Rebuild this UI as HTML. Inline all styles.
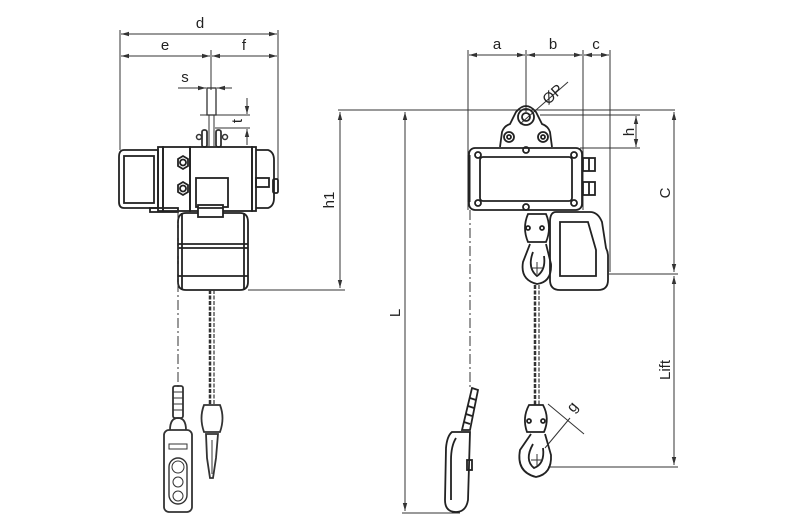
<!DOCTYPE html>
<html><head><meta charset="utf-8"><style>
html,body{margin:0;padding:0;background:#fff;}
svg{display:block;}
text{font-family:"Liberation Sans",sans-serif;font-size:15px;fill:#222;}
</style></head><body>
<svg width="794" height="532" viewBox="0 0 794 532" xmlns="http://www.w3.org/2000/svg">
<defs>
<marker id="ar" markerWidth="8" markerHeight="6" refX="8" refY="3" orient="auto-start-reverse" markerUnits="userSpaceOnUse"><path d="M0,0.8 L8,3 L0,5.2z" fill="#333"/></marker>
</defs>
<g stroke="#333" stroke-width="1" fill="none">
<!-- LEFT dims -->
<line x1="120" y1="30" x2="120" y2="150"/>
<line x1="278" y1="30" x2="278" y2="180"/>
<line x1="121" y1="34" x2="277" y2="34" marker-start="url(#ar)" marker-end="url(#ar)"/>
<line x1="121" y1="56" x2="210" y2="56" marker-start="url(#ar)" marker-end="url(#ar)"/>
<line x1="212" y1="56" x2="277" y2="56" marker-start="url(#ar)" marker-end="url(#ar)"/>
<line x1="211" y1="50" x2="211" y2="90"/>
<line x1="178" y1="88" x2="206" y2="88" marker-end="url(#ar)"/>
<line x1="232" y1="88" x2="217" y2="88" marker-end="url(#ar)"/>
<line x1="200" y1="115" x2="250" y2="115"/>
<line x1="215" y1="128" x2="250" y2="128"/>
<line x1="247" y1="98" x2="247" y2="114" marker-end="url(#ar)"/>
<line x1="247" y1="145" x2="247" y2="129" marker-end="url(#ar)"/>
<!-- shackle -->
<rect x="207" y="88" width="9" height="27" stroke-width="1.3"/>
<line x1="209" y1="115" x2="209" y2="146"/><line x1="214" y1="115" x2="214" y2="146"/>
<rect x="202" y="130" width="5" height="17" rx="2" stroke-width="1.8"/>
<rect x="216" y="130" width="5" height="17" rx="2" stroke-width="1.8"/>
<circle cx="199" cy="137" r="2.5" stroke-width="1.5"/><circle cx="225" cy="137" r="2.5" stroke-width="1.5"/>
<!-- body -->
<g stroke-width="1.8" stroke="#222">
<path d="M124,150 L158,150 L158,208 L124,208 Q119,208 119,202 L119,157 Q119,150 124,150z"/>
<rect x="124" y="156" width="30" height="47"/>
<rect x="158" y="147" width="5" height="64"/>
<rect x="163" y="147" width="27" height="64"/>
<rect x="190" y="147" width="62" height="64"/>
<rect x="252" y="147" width="4" height="64"/>
<path d="M256,150 L268,150 Q274,152 274,160 L274,198 Q274,206 268,208 L256,208"/>
<rect x="256" y="178" width="13" height="9"/>
<rect x="273" y="179" width="5" height="14" rx="1.5"/>
<rect x="196" y="178" width="32" height="29"/>
<polygon points="178,159 183,156 188,159 188,166 183,169 178,166"/><circle cx="183" cy="162.5" r="3"/>
<polygon points="178,185 183,182 188,185 188,192 183,195 178,192"/><circle cx="183" cy="188.5" r="3"/>
<rect x="150" y="208" width="28" height="4"/>
<path d="M186,213 L240,213 Q248,213 248,222 L248,282 Q248,290 240,290 L186,290 Q178,290 178,282 L178,222 Q178,213 186,213z"/>
<line x1="182" y1="213" x2="182" y2="290"/><line x1="244" y1="213" x2="244" y2="290"/>
<line x1="178" y1="244" x2="248" y2="244"/><line x1="178" y1="248" x2="248" y2="248"/>
<line x1="178" y1="276" x2="248" y2="276"/>
<rect x="198" y="205" width="25" height="12" fill="#fff"/>
<line x1="198" y1="208" x2="223" y2="208"/>
</g>
<line x1="178" y1="210" x2="178" y2="390" stroke-dasharray="10,3,2,3"/>
<!-- h1 -->
<line x1="338" y1="110" x2="675" y2="110"/>
<line x1="248" y1="290" x2="345" y2="290"/>
<line x1="340" y1="112" x2="340" y2="288" marker-start="url(#ar)" marker-end="url(#ar)"/>
<!-- left chain -->
<line x1="210" y1="290" x2="210" y2="405" stroke-dasharray="4,1.5" stroke-width="2.5"/>
<line x1="214" y1="290" x2="214" y2="405" stroke-dasharray="4,1.5" stroke-width="1.2"/>
<!-- left bottom block -->
<path d="M204,405 L220,405 Q225,418 220,432 L204,432 Q199,418 204,405z" stroke-width="1.8"/>
<path d="M206,434 L218,434 L216,458 L213,478 L210,478 L207,458z" stroke-width="1.8"/>
<line x1="212" y1="440" x2="212" y2="474"/>
<!-- left pendant -->
<rect x="173" y="386" width="10" height="32" rx="2" stroke-width="1.8"/>
<line x1="173" y1="392" x2="183" y2="392"/><line x1="173" y1="398" x2="183" y2="398"/><line x1="173" y1="404" x2="183" y2="404"/><line x1="173" y1="410" x2="183" y2="410"/>
<path d="M170,430 Q170,418 178,418 Q186,418 186,430" stroke-width="1.8"/>
<rect x="164" y="430" width="28" height="82" rx="5" stroke-width="1.8"/>
<rect x="169" y="444" width="18" height="5"/>
<rect x="169" y="458" width="18" height="46" rx="9" stroke-width="1.4"/>
<circle cx="178" cy="467" r="6"/><circle cx="178" cy="482" r="5"/><circle cx="178" cy="496" r="5"/>

<!-- RIGHT dims -->
<line x1="468" y1="50" x2="468" y2="210"/>
<line x1="526" y1="50" x2="526" y2="112"/>
<line x1="583" y1="50" x2="583" y2="210"/>
<line x1="610" y1="50" x2="610" y2="272"/>
<line x1="469" y1="55" x2="525" y2="55" marker-start="url(#ar)" marker-end="url(#ar)"/>
<line x1="527" y1="55" x2="582" y2="55" marker-start="url(#ar)" marker-end="url(#ar)"/>
<line x1="584" y1="55" x2="609" y2="55" marker-start="url(#ar)" marker-end="url(#ar)"/>
<line x1="520" y1="124" x2="568" y2="82"/>
<line x1="540" y1="115" x2="640" y2="115"/>
<line x1="580" y1="148" x2="640" y2="148"/>
<line x1="636" y1="116" x2="636" y2="147" marker-start="url(#ar)" marker-end="url(#ar)"/>
<g stroke-width="1.8" stroke="#222">
<path d="M500,147 L502,132 Q504,126 510,124 L516,112 Q526,100 536,112 L542,124 Q548,126 550,132 L552,147"/>
<circle cx="526" cy="117" r="8"/><circle cx="526" cy="117" r="4"/>
<circle cx="509" cy="137" r="5"/><circle cx="509" cy="137" r="2"/>
<circle cx="543" cy="137" r="5"/><circle cx="543" cy="137" r="2"/>
<rect x="469" y="148" width="113" height="62" rx="6"/>
<rect x="480" y="157" width="92" height="44" rx="3"/>
<circle cx="478" cy="155" r="3"/><circle cx="574" cy="155" r="3"/><circle cx="478" cy="203" r="3"/><circle cx="574" cy="203" r="3"/>
<circle cx="526" cy="150" r="3"/><circle cx="526" cy="207" r="3"/>
<line x1="469" y1="155" x2="469" y2="202" stroke-width="3"/>
<rect x="583" y="158" width="12" height="13"/><line x1="589" y1="158" x2="589" y2="171"/>
<rect x="583" y="182" width="12" height="13"/><line x1="589" y1="182" x2="589" y2="195"/>
<path d="M528,214 L546,214 Q552,228 546,242 L528,242 Q522,228 528,214z"/>
<circle cx="528" cy="228" r="2"/><circle cx="542" cy="228" r="2"/>
<path d="M530,244 L523,262 Q520,280 537,284 Q552,282 551,264 L546,244" />
<path d="M533,252 Q527,268 537,276 Q546,270 544,256"/>
<path d="M556,212 L590,212 Q598,212 602,222 L606,248 Q608,252 608,256 L608,280 Q608,290 598,290 L560,290 Q550,290 550,280 L550,222 Q550,212 556,212z"/>
<path d="M560,222 L588,222 L596,250 L596,276 L560,276z"/>
</g>
<line x1="537" y1="262" x2="537" y2="274"/><line x1="531" y1="268" x2="543" y2="268"/>
<line x1="470" y1="210" x2="470" y2="388" stroke-dasharray="10,3,2,3"/>
<line x1="608" y1="274" x2="678" y2="274"/>
<line x1="674" y1="112" x2="674" y2="272" marker-start="url(#ar)" marker-end="url(#ar)"/>
<line x1="674" y1="276" x2="674" y2="465" marker-start="url(#ar)" marker-end="url(#ar)"/>
<line x1="548" y1="467" x2="678" y2="467"/>
<line x1="405" y1="112" x2="405" y2="511" marker-start="url(#ar)" marker-end="url(#ar)"/>
<line x1="402" y1="513" x2="460" y2="513"/>
<line x1="535" y1="285" x2="535" y2="405" stroke-dasharray="4,1.5" stroke-width="2.5"/>
<line x1="539" y1="285" x2="539" y2="405" stroke-dasharray="4,1.5" stroke-width="1.2"/>
<g stroke-width="1.8" stroke="#222">
<path d="M529,405 L543,405 Q550,418 544,432 L527,432 Q522,418 529,405z"/>
<circle cx="529" cy="421" r="2"/><circle cx="543" cy="421" r="2"/>
<path d="M531,434 L520,450 Q516,472 536,477 Q552,474 551,455 L545,434"/>
<path d="M533,444 Q524,460 534,468 Q545,464 543,448"/>
</g>
<line x1="537" y1="454" x2="537" y2="466"/><line x1="531" y1="460" x2="543" y2="460"/>
<line x1="548" y1="404" x2="584" y2="434"/>
<line x1="545" y1="448" x2="570" y2="418"/>
<g stroke-width="1.8" stroke="#222">
<path d="M472,388 L478,390 L470,430 L462,430z"/>
<line x1="470" y1="398" x2="476" y2="400"/><line x1="468" y1="406" x2="474" y2="408"/><line x1="466" y1="414" x2="472" y2="416"/><line x1="464" y1="422" x2="470" y2="424"/>
<path d="M452,432 L470,432 L468,500 Q466,512 456,512 Q445,512 445,500 L446,448 Q447,436 452,432z"/>
<path d="M456,438 Q451,446 451,460 L451,500"/>
<rect x="467" y="460" width="5" height="10"/>
</g>
</g>
<text x="200" y="28" text-anchor="middle">d</text>
<text x="165" y="50" text-anchor="middle">e</text>
<text x="244" y="50" text-anchor="middle">f</text>
<text x="185" y="82" text-anchor="middle">s</text>
<text transform="translate(242,121) rotate(-90)" text-anchor="middle">t</text>
<text transform="translate(334,200) rotate(-90)" text-anchor="middle">h1</text>
<text x="497" y="49" text-anchor="middle">a</text>
<text x="553" y="49" text-anchor="middle">b</text>
<text x="596" y="49" text-anchor="middle">c</text>
<text transform="translate(556,98) rotate(-42)" text-anchor="middle">ØP</text>
<text transform="translate(634,132) rotate(-90)" text-anchor="middle">h</text>
<text transform="translate(670,193) rotate(-90)" text-anchor="middle">C</text>
<text transform="translate(670,370) rotate(-90)" text-anchor="middle">Lift</text>
<text transform="translate(400,313) rotate(-90)" text-anchor="middle">L</text>
<text transform="translate(576,410) rotate(-50)" text-anchor="middle">g</text>
</svg>
</body></html>
